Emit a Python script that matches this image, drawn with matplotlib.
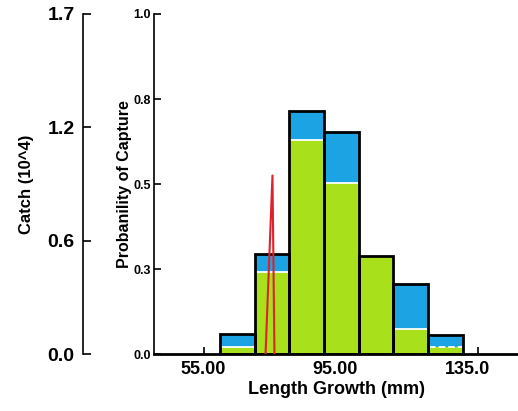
import matplotlib
matplotlib.use("Agg")
import matplotlib.pyplot as plt

# data
bin_left = [60, 70.5, 81, 91.5, 102, 112.5, 123]
bin_width = 10.5
total = [0.059, 0.295, 0.714, 0.652, 0.289, 0.206, 0.056]
green = [0.021, 0.242, 0.628, 0.504, 0.289, 0.074, 0.021]
red_x = [73.8, 75.9, 76.5]
red_y = [0.0, 0.525, 0.0]

xticks = [55, 95, 135]
xlabels = ["55.00", "95.00", "135.0"]
xmarks = [55.3, 81.1, 138.3]
pticks = [0, 0.25, 0.5, 0.75, 1.0]
plabels = ["0.0", "0.3", "0.5", "0.8", "1.0"]
cticks = [0, 1.7/3, 3.4/3, 1.7]
clabels = ["0.0", "0.6", "1.2", "1.7"]

BLUE = "#1ba3e3"
GREEN = "#a8e01c"

plt.rcParams['font.family'] = ['Liberation Sans', 'DejaVu Sans']
plt.rcParams['font.weight'] = 'bold'
plt.rcParams['axes.labelweight'] = 'bold'

W, H = 518, 411
fig = plt.figure(figsize=(W/100, H/100), dpi=100)

# main axis (probability)
ax = fig.add_axes([154/W, (H-354)/H, (W-154)/W, (354-14)/H])
ax.set_xlim(40.0, 150.3)
ax.set_ylim(0, 1.0)
for s in ["top", "right"]:
    ax.spines[s].set_visible(False)
ax.spines["left"].set_linewidth(1.2)
ax.spines["bottom"].set_linewidth(2)

blue_h = [t - g for t, g in zip(total, green)]
ax.bar(bin_left, green, width=bin_width, align="edge", color=GREEN, zorder=2)
ax.bar(bin_left, blue_h, bottom=green, width=bin_width, align="edge", color=BLUE, zorder=2)
for i, (x, g, t) in enumerate(zip(bin_left, green, total)):
    if t - g > 0.001:
        ls = "--" if i == len(bin_left) - 1 else "-"
        ax.plot([x + 0.3, x + bin_width - 0.3], [g, g], color="white", lw=1.3, ls=ls, zorder=3)
ax.bar(bin_left, total, width=bin_width, align="edge", fill=False, edgecolor="black", linewidth=2, zorder=4)

ax.plot(red_x, red_y, color="#e0202a", lw=1.5, zorder=5)

ax.set_yticks(pticks)
ax.set_yticklabels(plabels, fontsize=9)
ax.tick_params(axis="y", direction="in", length=5, width=1.2, pad=2)
ax.set_xticks(xticks)
ax.set_xticklabels(xlabels, fontsize=13)
ax.tick_params(axis="x", length=0, pad=5)
ax.set_xticks(xmarks, minor=True)
ax.tick_params(axis="x", which="minor", direction="in", length=5, width=1.2)
ax.set_xlabel("Length Growth (mm)", fontsize=13, labelpad=2)
ax.set_ylabel("Probanility of Capture", fontsize=11.5, labelpad=1)

# left axis (catch)
ax2 = fig.add_axes([83/W, (H-354)/H, 0.001, (354-14)/H])
ax2.set_ylim(0, 1.7)
for s in ["top", "right", "bottom"]:
    ax2.spines[s].set_visible(False)
ax2.spines["left"].set_linewidth(1.2)
ax2.set_xticks([])
ax2.patch.set_visible(False)
ax2.set_yticks(cticks)
ax2.set_yticklabels(clabels, fontsize=14)
ax2.tick_params(axis="y", direction="in", length=6, width=1.2, pad=6)
ax2.set_ylabel("Catch (10^4)", fontsize=12, labelpad=10)

fig.savefig("out.png", dpi=100)
